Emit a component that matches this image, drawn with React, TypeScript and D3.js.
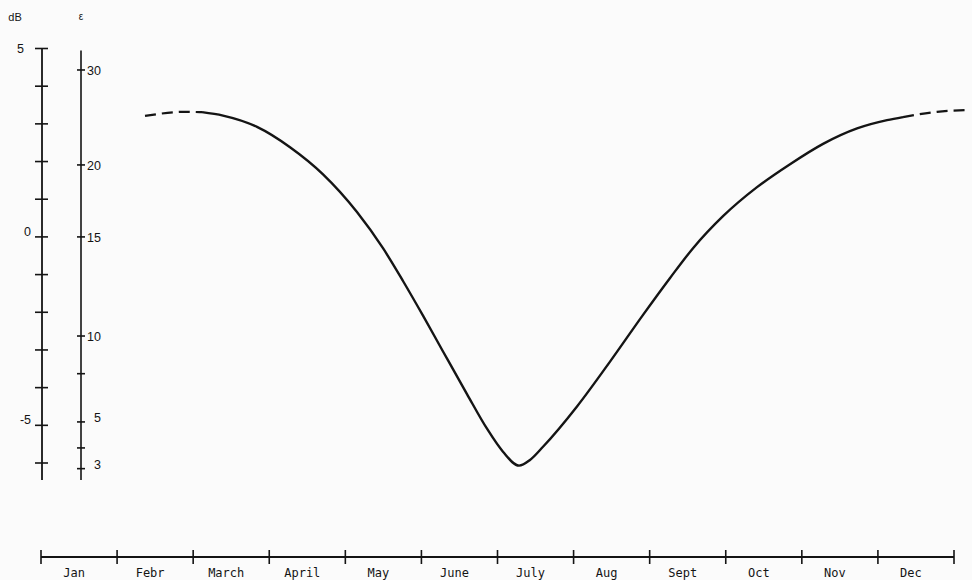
import React from "react";
import * as d3 from "d3";

// Month labels (bottom axis)
const months = ["Jan", "Febr", "March", "April", "May", "June", "July", "Aug", "Sept", "Oct", "Nov", "Dec"];

// Curve: x in months from start of Jan, y in dB
const curveMonth = [1.367, 1.893, 2.116, 2.392, 2.839, 3.273, 3.707, 4.153, 4.495, 4.758, 5.021, 5.284, 5.599, 5.862, 6.072, 6.283, 6.427, 6.598, 7.045, 7.479, 7.913, 8.268, 8.57, 8.964, 9.411, 9.845, 10.279, 10.726, 11.12, 11.33, 11.777, 12.211];
const curveDb = [3.21, 3.32, 3.31, 3.22, 2.92, 2.38, 1.66, 0.66, -0.3, -1.17, -2.09, -3.04, -4.17, -5.09, -5.7, -6.07, -5.92, -5.57, -4.5, -3.31, -2.07, -1.09, -0.3, 0.55, 1.32, 1.93, 2.47, 2.88, 3.1, 3.18, 3.32, 3.37];
// solid (measured) part of the curve, dashed outside
const solidFrom = 2.116;
const solidTo = 11.33;

// dB axis ticks
const dbTicks = [5, 4, 3, 2, 1, 0, -1, -2, -3, -4, -5, -6];
const dbLabels = [5, 0, -5];

// epsilon axis: tick values and their equivalent dB position
const epsTicks = [30, 20, 15, 10, 7, 5, 4, 3];
const epsDb = [4.43, 1.91, 0, -2.63, -3.63, -4.91, -5.6, -6.15];
const epsLabels = [30, 20, 15, 10, 5, 3];

export default function App() {
  const W = 972, H = 580;
  const x = d3.scaleLinear().domain([0, 12]).range([41, 954]);
  const y = d3.scaleLinear().domain([-6, 5]).range([463, 48.5]);
  const epsToDb = d3.scaleLinear().domain(epsTicks).range(epsDb);

  const dbX = 42;
  const epsX = 81;
  const axisY = 557;

  const pts = curveMonth.map((m, i) => [m, curveDb[i]] as [number, number]);
  const line = d3
    .line<[number, number]>()
    .x((d) => x(d[0]))
    .y((d) => y(d[1]))
    .curve(d3.curveMonotoneX);
  const pre = pts.filter((p) => p[0] <= solidFrom);
  const mid = pts.filter((p) => p[0] >= solidFrom && p[0] <= solidTo);
  const post = pts.filter((p) => p[0] >= solidTo);

  const ink = "#141414";
  const numFont = "'Liberation Sans', Arial, sans-serif";
  const monoFont = "'DejaVu Sans Mono', 'Liberation Mono', monospace";

  return (
    <svg
      width={W}
      height={H}
      style={{ position: "absolute", left: 0, top: 0, background: "#fbfbfb" }}
    >
      {/* unit labels */}
      <text x={15} y={21} fontFamily={numFont} fontSize={11} fill={ink} textAnchor="middle">
        dB
      </text>
      <text x={81} y={20} fontFamily={numFont} fontSize={10} fill={ink} textAnchor="middle">
        ε
      </text>

      {/* dB axis */}
      <line x1={dbX} x2={dbX} y1={y(5)} y2={y(-6.45)} stroke={ink} strokeWidth={1.8} />
      {dbTicks.map((t) => (
        <line key={t} x1={dbX - 7} x2={dbX + 6} y1={y(t)} y2={y(t)} stroke={ink} strokeWidth={1.6} />
      ))}
      {dbLabels.map((t) => (
        <text
          key={t}
          x={t === 5 ? 24 : 31}
          y={y(t) + (t === 5 ? 4 : -1)}
          fontFamily={numFont}
          fontSize={12.5}
          fill={ink}
          textAnchor="end"
        >
          {t}
        </text>
      ))}

      {/* epsilon axis */}
      <line x1={epsX} x2={epsX} y1={y(5) + 2} y2={y(-6.45)} stroke={ink} strokeWidth={1.6} />
      {epsTicks.map((t) => (
        <line
          key={t}
          x1={epsX - 4}
          x2={epsX + 4}
          y1={y(epsToDb(t))}
          y2={y(epsToDb(t))}
          stroke={ink}
          strokeWidth={1.6}
        />
      ))}
      {epsLabels.map((t) => (
        <text
          key={t}
          x={101}
          y={y(epsToDb(t)) + (t < 10 ? 0 : 5)}
          fontFamily={numFont}
          fontSize={12.5}
          fill={ink}
          textAnchor="end"
        >
          {t}
        </text>
      ))}

      {/* curve */}
      <path d={line(pre) || ""} fill="none" stroke={ink} strokeWidth={2.2} strokeDasharray="11 6" />
      <path d={line(mid) || ""} fill="none" stroke={ink} strokeWidth={2.4} strokeLinejoin="round" />
      <path d={line(post) || ""} fill="none" stroke={ink} strokeWidth={2.2} strokeDasharray="11 6" />

      {/* month axis */}
      <line x1={x(0)} x2={x(12)} y1={axisY} y2={axisY} stroke={ink} strokeWidth={1.8} />
      {d3.range(13).map((i) => (
        <line key={i} x1={x(i)} x2={x(i)} y1={axisY - 7} y2={axisY + 7} stroke={ink} strokeWidth={1.6} />
      ))}
      {months.map((m, i) => (
        <text
          key={m}
          x={x(i + 0.5) - 5}
          y={577}
          fontFamily={monoFont}
          fontSize={12}
          fill={ink}
          textAnchor="middle"
        >
          {m}
        </text>
      ))}
    </svg>
  );
}
